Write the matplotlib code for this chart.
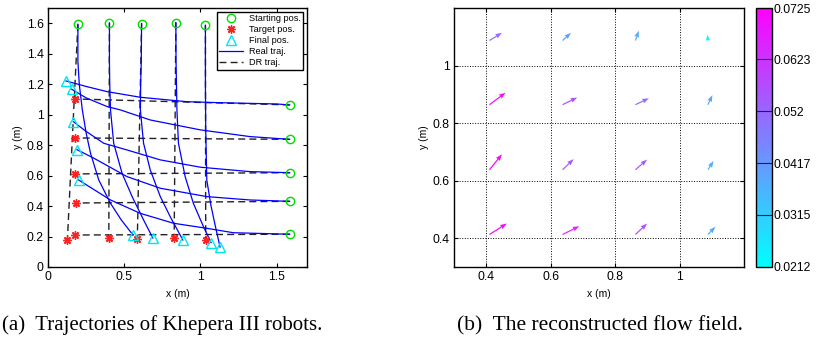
import numpy as np
import matplotlib
matplotlib.use('Agg')
import matplotlib.pyplot as plt
from matplotlib.lines import Line2D

plt.rcParams['font.family'] = ['Liberation Sans', 'DejaVu Sans']

# ---------------- (a) trajectories data ----------------
# 5 robots start at the top and go down, 5 start on the right and go left
start_x = [0.196, 0.403, 0.614, 0.839, 1.033, 1.586, 1.586, 1.586, 1.586, 1.586]
start_y = [1.593, 1.602, 1.598, 1.604, 1.587, 1.064, 0.838, 0.619, 0.431, 0.215]
target_x = [0.127, 0.399, 0.586, 0.828, 1.035, 0.175, 0.177, 0.176, 0.182, 0.179]
target_y = [0.177, 0.188, 0.182, 0.193, 0.177, 1.103, 0.847, 0.611, 0.420, 0.210]
final_x = [0.556, 0.688, 0.885, 1.070, 1.129, 0.118, 0.155, 0.166, 0.190, 0.201]
final_y = [0.212, 0.190, 0.177, 0.160, 0.131, 1.221, 1.167, 0.954, 0.770, 0.571]

# real trajectories
traj_x = [
    [0.196, 0.196, 0.205, 0.225, 0.250, 0.279, 0.333, 0.410, 0.480, 0.556],
    [0.403, 0.403, 0.405, 0.410, 0.431, 0.486, 0.552, 0.627, 0.688],
    [0.614, 0.612, 0.608, 0.606, 0.627, 0.671, 0.737, 0.802, 0.885],
    [0.839, 0.840, 0.843, 0.846, 0.856, 0.900, 0.954, 1.020, 1.070],
    [1.033, 1.033, 1.035, 1.042, 1.070, 1.100, 1.129],
    [1.586, 1.500, 1.107, 0.911, 0.606, 0.388, 0.250, 0.118],
    [1.586, 1.325, 1.000, 0.671, 0.475, 0.388, 0.250, 0.155],
    [1.586, 1.325, 1.000, 0.737, 0.519, 0.366, 0.250, 0.166],
    [1.586, 1.325, 1.042, 0.737, 0.519, 0.301, 0.190],
    [1.586, 1.216, 1.042, 0.824, 0.606, 0.410, 0.201],
]
traj_y = [
    [1.593, 1.350, 1.200, 1.031, 0.880, 0.746, 0.571, 0.418, 0.310, 0.212],
    [1.602, 1.350, 1.200, 1.031, 0.812, 0.615, 0.462, 0.309, 0.190],
    [1.598, 1.350, 1.200, 1.031, 0.812, 0.637, 0.462, 0.330, 0.177],
    [1.604, 1.350, 1.200, 1.031, 0.812, 0.593, 0.418, 0.265, 0.160],
    [1.587, 1.200, 0.900, 0.571, 0.400, 0.260, 0.131],
    [1.064, 1.070, 1.079, 1.085, 1.114, 1.151, 1.185, 1.221],
    [0.838, 0.856, 0.900, 0.965, 1.031, 1.053, 1.110, 1.167],
    [0.619, 0.626, 0.655, 0.703, 0.768, 0.812, 0.890, 0.954],
    [0.431, 0.440, 0.462, 0.517, 0.593, 0.714, 0.770],
    [0.215, 0.225, 0.254, 0.287, 0.352, 0.440, 0.571],
]

# ---------------- (b) flow field data ----------------
grid_x = [0.410, 0.637, 0.863, 1.088]
grid_y = [0.413, 0.638, 0.864, 1.087]
flow_u = [[0.058, 0.056, 0.039, 0.025],
          [0.042, 0.037, 0.039, 0.019],
          [0.054, 0.049, 0.045, 0.015],
          [0.042, 0.028, 0.011, -0.002]]
flow_v = [[0.041, 0.031, 0.041, 0.029],
          [0.058, 0.040, 0.038, 0.033],
          [0.045, 0.027, 0.024, 0.036],
          [0.029, 0.029, 0.037, 0.022]]
cbar_ticks = [0.0212, 0.0315, 0.0417, 0.052, 0.0623, 0.0725]
cbar_labels = ['0.0212', '0.0315', '0.0417', '0.052', '0.0623', '0.0725']

fig = plt.figure(figsize=(8.17, 3.39), dpi=100)

#---------------left panel---------------------
ax1 = fig.add_axes([0.0588, 0.2124, 0.317, 0.764])
for i in range(len(start_x)):
    ax1.plot([start_x[i], target_x[i]], [start_y[i], target_y[i]], color='#222222',
             ls=(0, (5, 3)), lw=1.0, zorder=2)
for i in range(len(traj_x)):
    ax1.plot(traj_x[i], traj_y[i], color='#0000ff', lw=0.9, zorder=3)
ax1.plot(start_x, start_y, 'o', ls='none', mfc='none', mec='#00dd00', ms=6, mew=1.0, zorder=5)
ax1.plot(target_x, target_y, marker=(8, 2, 0), ls='none', color='#ff2020', ms=6, mew=1.0, zorder=5)
ax1.plot(final_x, final_y, '^', ls='none', mfc='none', mec='#00e5ee', ms=7.5, mew=1.0, zorder=5)

handles = [
    Line2D([], [], marker='o', ls='none', mfc='none', mec='#00dd00', ms=6),
    Line2D([], [], marker=(8, 2, 0), ls='none', color='#ff2020', ms=6),
    Line2D([], [], marker='^', ls='none', mfc='none', mec='#00e5ee', ms=7.5),
    Line2D([], [], color='#0000ff', lw=0.9),
    Line2D([], [], color='#222222', ls=(0, (5, 3)), lw=1.0),
]
leg = ax1.legend(handles, ['Starting pos.', 'Target pos.', 'Final pos.', 'Real traj.', 'DR traj.'],
                 loc='upper right', fontsize=6.6, fancybox=False, edgecolor='black',
                 framealpha=1, borderaxespad=0.4, handlelength=2.6, labelspacing=0.2,
                 borderpad=0.3, handletextpad=0.6)
leg.get_frame().set_linewidth(1.0)

ax1.set_xlim(0, 1.7)
ax1.set_ylim(0, 1.7)
ax1.set_xticks([0, 0.5, 1, 1.5])
ax1.set_xticklabels(['0', '0.5', '1', '1.5'])
ax1.set_yticks([0, 0.2, 0.4, 0.6, 0.8, 1, 1.2, 1.4, 1.6])
ax1.set_yticklabels(['0', '0.2', '0.4', '0.6', '0.8', '1', '1.2', '1.4', '1.6'])
ax1.set_xlabel('x (m)', fontsize=7.5, labelpad=4)
ax1.set_ylabel('y (m)', fontsize=7.5, labelpad=3)

#---------------right panel---------------------
ax2 = fig.add_axes([0.5557, 0.2124, 0.355, 0.764])
X, Y = np.meshgrid(grid_x, grid_y)
U = np.array(flow_u)
V = np.array(flow_v)
C = np.hypot(U, V)
q = ax2.quiver(X, Y, U, V, C, cmap='cool', clim=(cbar_ticks[0], cbar_ticks[-1]),
               angles='xy', scale_units='xy', scale=1.08, width=0.0042,
               headwidth=4, headlength=5.5, headaxislength=5, zorder=3)
ax2.set_xlim(0.3, 1.2)
ax2.set_ylim(0.3, 1.2)
ax2.set_xticks([0.4, 0.6, 0.8, 1])
ax2.set_xticklabels(['0.4', '0.6', '0.8', '1'])
ax2.set_yticks([0.4, 0.6, 0.8, 1])
ax2.set_yticklabels(['0.4', '0.6', '0.8', '1'])
ax2.grid(True, color='black', ls=':', lw=0.7)
ax2.set_xlabel('x (m)', fontsize=7.5, labelpad=4)
ax2.set_ylabel('y (m)', fontsize=7.5, labelpad=3)

for ax in (ax1, ax2):
    ax.tick_params(direction='in', length=3, width=0.8, top=True, right=True, labelsize=8.8, pad=3)
    for s in ax.spines.values():
        s.set_linewidth(1.0)

# colorbar
cax = fig.add_axes([0.9253, 0.2124, 0.0196, 0.764])
cb = fig.colorbar(q, cax=cax, ticks=cbar_ticks)
cb.ax.set_yticklabels(cbar_labels)
cb.ax.tick_params(length=0, labelsize=8.8, pad=1)
cb.outline.set_linewidth(1.0)
for t in cbar_ticks[1:-1]:
    cb.ax.axhline(t, color='#222222', lw=0.8)

# captions
fig.text(0.002, 0.04, '(a)  Trajectories of Khepera III robots.', ha='left', va='center',
         fontsize=15, family='Liberation Serif')
fig.text(0.734, 0.04, '(b)  The reconstructed flow field.', ha='center', va='center',
         fontsize=15.5, family='Liberation Serif')

fig.savefig('out.png', dpi=100)
